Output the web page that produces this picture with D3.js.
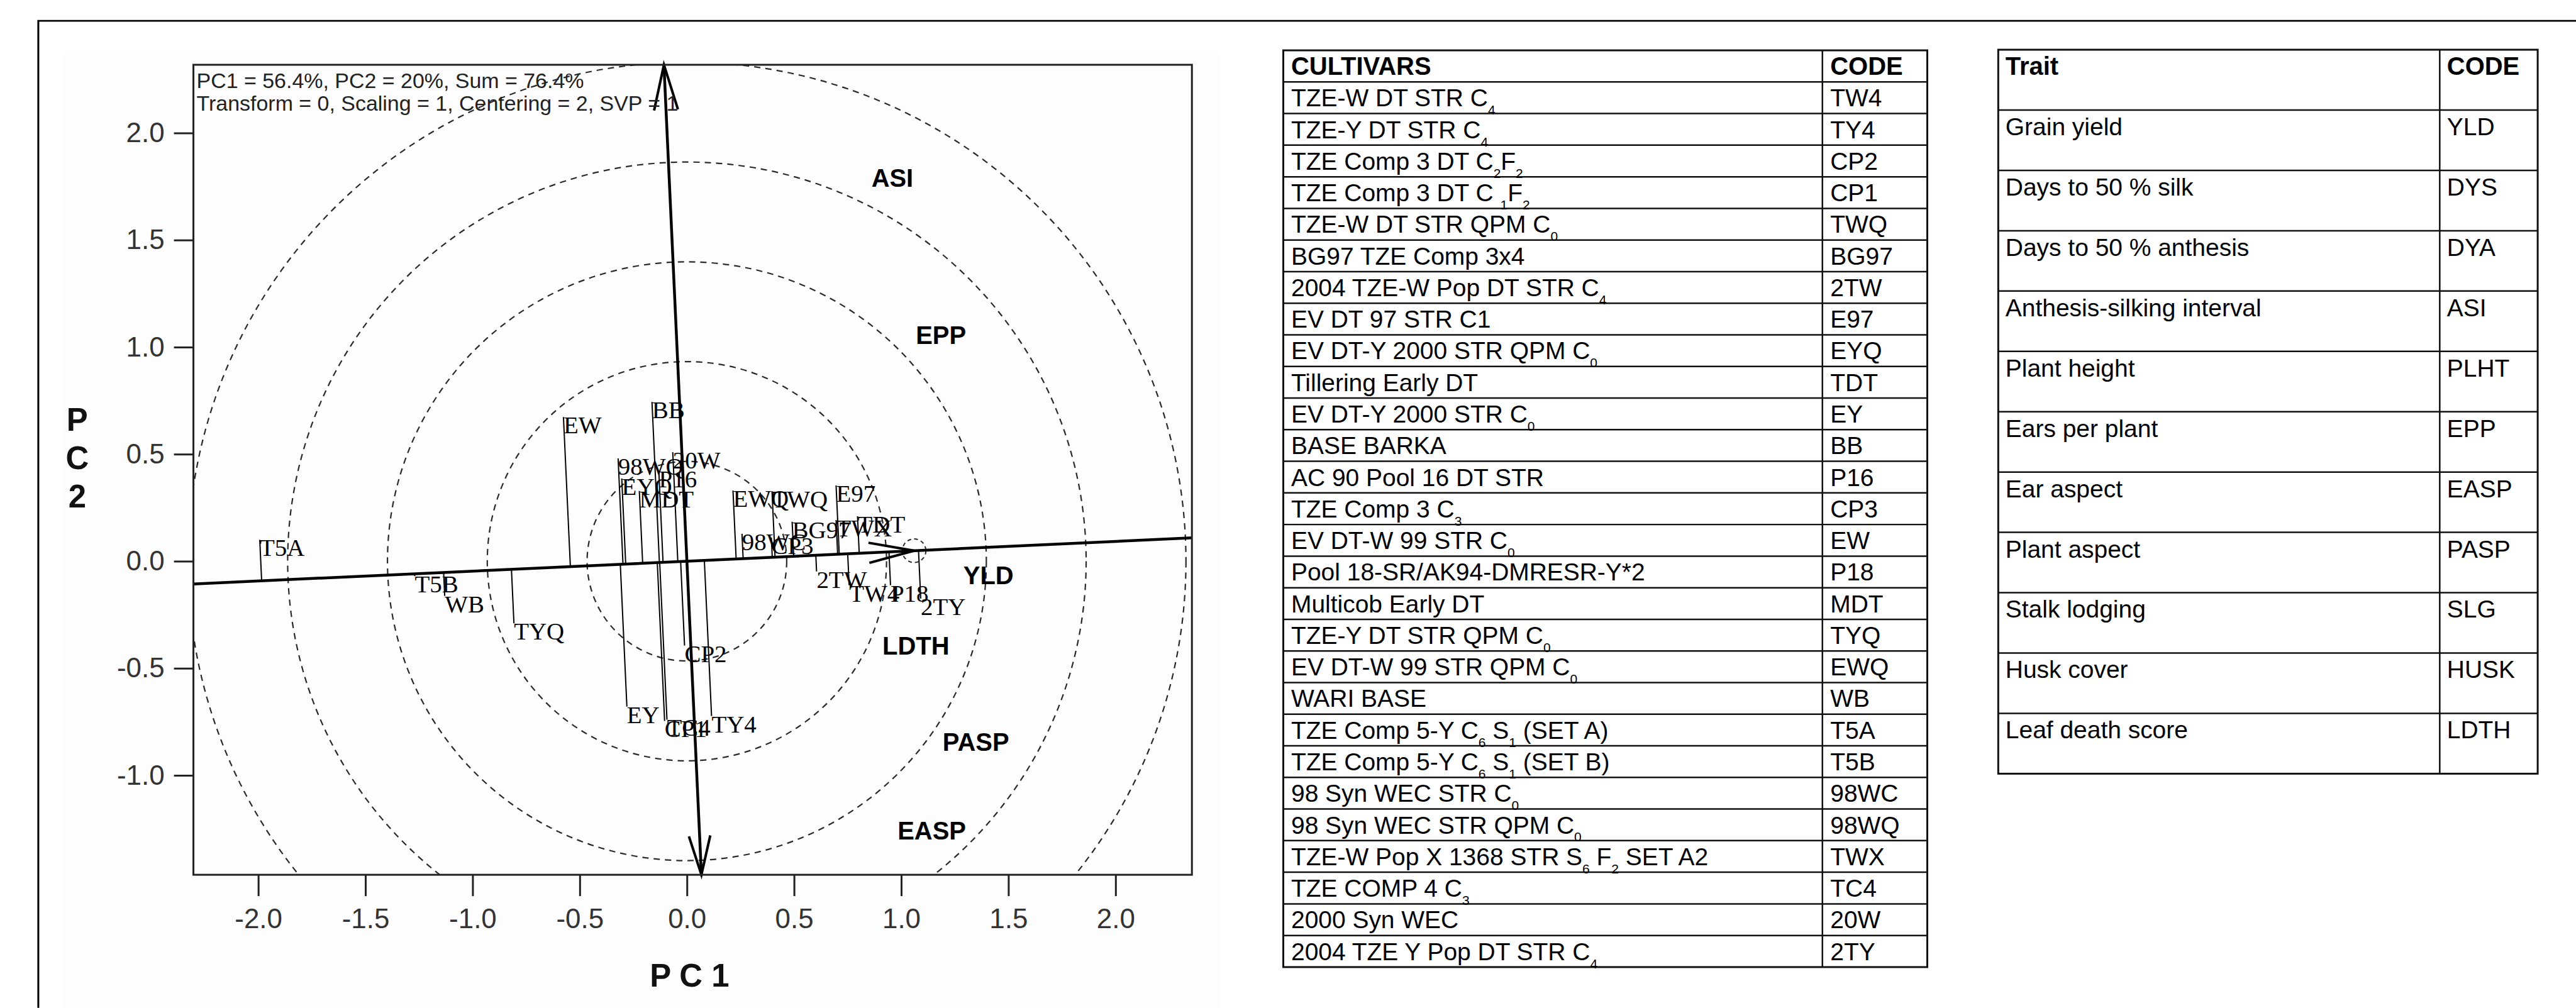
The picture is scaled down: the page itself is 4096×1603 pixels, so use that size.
<!DOCTYPE html>
<html>
<head>
<meta charset="utf-8">
<script src="https://cdn.jsdelivr.net/npm/d3@7"></script>
<style>
  html, body { margin: 0; padding: 0; background: #fff; overflow: hidden; }
  text { white-space: pre; }
</style>
</head>
<body>
<svg id="fig"></svg>
<script>
// ---------------- data ----------------
// cultivar codes (table order) and their GGE biplot scores
const genotypeCodes = ["TW4","TY4","CP2","CP1","TWQ","BG97","2TW","E97","EYQ","TDT","EY","BB","P16","CP3",
  "EW","P18","MDT","TYQ","EWQ","WB","T5A","T5B","98WC","98WQ","TWX","TC4","20W","2TY"];
const genotypePC1 = [0.757, 0.115, -0.011, -0.104, 0.397, 0.491, 0.605, 0.696, -0.304, 0.796, -0.280, -0.163, -0.131, 0.394,
  -0.576, 0.950, -0.222, -0.807, 0.215, -1.130, -1.993, -1.270, 0.257, -0.321, 0.696, -0.093, -0.066, 1.091];
const genotypePC2 = [-0.112, -0.723, -0.394, -0.746, 0.327, 0.184, -0.048, 0.354, 0.386, 0.210, -0.679, 0.744, 0.421, 0.110,
  0.673, -0.112, 0.328, -0.290, 0.330, -0.162, 0.100, -0.070, 0.128, 0.480, 0.192, -0.740, 0.509, -0.174];

// cultivar names; _{..} marks a subscript
const cultivarNames = [
  "TZE-W DT STR C_{4}", "TZE-Y DT STR C_{4}", "TZE Comp 3 DT C_{2}F_{2}", "TZE Comp 3 DT C _{1}F_{2}",
  "TZE-W DT STR QPM C_{0}", "BG97 TZE Comp 3x4", "2004 TZE-W Pop DT STR C_{4}", "EV DT 97 STR C1",
  "EV DT-Y 2000 STR QPM C_{0}", "Tillering Early DT", "EV DT-Y 2000 STR C_{0}", "BASE BARKA",
  "AC 90 Pool 16 DT STR", "TZE Comp 3 C_{3}", "EV DT-W 99 STR C_{0}", "Pool 18-SR/AK94-DMRESR-Y*2",
  "Multicob Early DT", "TZE-Y DT STR QPM C_{0}", "EV DT-W 99 STR QPM C_{0}", "WARI BASE",
  "TZE Comp 5-Y C_{6} S_{1} (SET A)", "TZE Comp 5-Y C_{6} S_{1} (SET B)", "98 Syn WEC STR C_{0}",
  "98 Syn WEC STR QPM C_{0}", "TZE-W Pop X 1368 STR S_{6} F_{2} SET A2", "TZE COMP 4 C_{3}",
  "2000 Syn WEC", "2004 TZE Y Pop DT STR C_{4}"];

// traits (testers)
const traitNames = ["Grain yield","Days to 50 % silk","Days to 50 % anthesis","Anthesis-silking interval",
  "Plant height","Ears per plant","Ear aspect","Plant aspect","Stalk lodging","Husk cover","Leaf death score"];
const traitCodes = ["YLD","DYS","DYA","ASI","PLHT","EPP","EASP","PASP","SLG","HUSK","LDTH"];

// trait labels shown inside the biplot
const plotTraitCodes = ["ASI","EPP","YLD","LDTH","PASP","EASP"];
const plotTraitPC1 = [0.861, 1.068, 1.290, 0.912, 1.193, 0.983];
const plotTraitPC2 = [1.750, 1.016, -0.107, -0.435, -0.887, -1.300];

// average-environment coordinate and biplot settings
const averageEnvironment = [1.060, 0.049];
const circleStep = 0.4657;
const circleCount = 5;
const headerLines = ["PC1 = 56.4%, PC2 = 20%, Sum = 76.4%",
  "Transform = 0, Scaling = 1, Centering = 2, SVP = 1"];
const xTickValues = [-2.0, -1.5, -1.0, -0.5, 0.0, 0.5, 1.0, 1.5, 2.0];
const yTickValues = [-1.0, -0.5, 0.0, 0.5, 1.0, 1.5, 2.0];

// ---------------- drawing ----------------
const W = 4102, H = 1605;
const SANS = "'Liberation Sans', Arial, sans-serif";
const SERIF = "'Liberation Serif', 'Times New Roman', serif";

const svg = d3.select("#fig")
  .attr("width", 4096).attr("height", 1603)
  .attr("viewBox", `0 0 ${W} ${H}`);

svg.append("rect").attr("width", W).attr("height", H).attr("fill", "#fff");

// figure frame (top and left rule)
svg.append("path").attr("d", `M61,${H} V33 H${W}`)
  .attr("fill", "none").attr("stroke", "#000").attr("stroke-width", 3);

// soft backdrop of the biplot panel
svg.append("rect").attr("x", 99).attr("y", 86).attr("width", 1845).attr("height", H - 86)
  .attr("fill", "#fdfdfd");

const plot = { left: 308, right: 1898, top: 103, bottom: 1393 };
const x = d3.scaleLinear().domain([-2.3025, 2.3563]).range([plot.left, plot.right]);
const y = d3.scaleLinear().domain([-1.4645, 2.3185]).range([plot.bottom, plot.top]);
const pxPerUnit = x(1) - x(0);

svg.append("defs").append("clipPath").attr("id", "plotClip")
  .append("rect").attr("x", plot.left).attr("y", plot.top)
  .attr("width", plot.right - plot.left).attr("height", plot.bottom - plot.top);

const g = svg.append("g").attr("clip-path", "url(#plotClip)");

// concentric circles about the biplot origin
g.selectAll("circle.ring").data(d3.range(1, circleCount + 1)).join("circle")
  .attr("class", "ring")
  .attr("cx", x(0)).attr("cy", y(0))
  .attr("r", k => k * circleStep * pxPerUnit)
  .attr("fill", "none").attr("stroke", "#2a2a2a").attr("stroke-width", 2.2)
  .attr("stroke-dasharray", "10,8");

// AEC axes: abscissa through the average environment, ordinate perpendicular
const theta = Math.atan2(averageEnvironment[1], averageEnvironment[0]);
const ux = Math.cos(theta), uy = Math.sin(theta);
const vx = -Math.sin(theta), vy = Math.cos(theta);

// small circle marking the average environment
g.append("circle")
  .attr("cx", x(averageEnvironment[0])).attr("cy", y(averageEnvironment[1]))
  .attr("r", 0.055 * pxPerUnit)
  .attr("fill", "none").attr("stroke", "#2a2a2a").attr("stroke-width", 2)
  .attr("stroke-dasharray", "6,5");

// projection lines from each genotype onto the abscissa
const genotypes = genotypeCodes.map((c, i) => ({ code: c, pc1: genotypePC1[i], pc2: genotypePC2[i] }));
g.selectAll("line.proj").data(genotypes).join("line")
  .attr("class", "proj")
  .attr("x1", d => { const t = d.pc1 * ux + d.pc2 * uy; return x(t * ux); })
  .attr("y1", d => { const t = d.pc1 * ux + d.pc2 * uy; return y(t * uy); })
  .attr("x2", d => x(d.pc1)).attr("y2", d => y(d.pc2))
  .attr("stroke", "#000").attr("stroke-width", 2);

// abscissa
g.append("line")
  .attr("x1", x(-10 * ux)).attr("y1", y(-10 * uy))
  .attr("x2", x(10 * ux)).attr("y2", y(10 * uy))
  .attr("stroke", "#000").attr("stroke-width", 4.5);

// ordinate
g.append("line")
  .attr("x1", x(-10 * vx)).attr("y1", y(-10 * vy))
  .attr("x2", x(10 * vx)).attr("y2", y(10 * vy))
  .attr("stroke", "#000").attr("stroke-width", 4.5);

// open arrowheads
function arrowHead(tipX, tipY, dirX, dirY, len, half) {
  const n = Math.hypot(dirX, dirY); const dx = dirX / n, dy = dirY / n;
  const bx = tipX - dx * len, by = tipY - dy * len;
  return `M${bx - dy * half},${by + dx * half} L${tipX},${tipY} L${bx + dy * half},${by - dx * half}`;
}
const arrowStyle = s => s.attr("fill", "none").attr("stroke", "#000").attr("stroke-width", 4)
  .attr("stroke-linejoin", "miter");

// arrow on the abscissa pointing to the higher mean
{
  const tx = x(averageEnvironment[0]), ty = y(averageEnvironment[1]);
  const dX = x(ux) - x(0), dY = y(uy) - y(0);
  svg.append("path").attr("d", arrowHead(tx, ty, dX, dY, 72, 16)).call(arrowStyle);
}
// arrows at both ends of the ordinate
{
  const tTop = y.domain()[1] / vy, tBot = y.domain()[0] / vy;
  const dX = x(vx) - x(0), dY = y(vy) - y(0);
  svg.append("path").attr("d", arrowHead(x(tTop * vx), y(tTop * vy), dX, dY, 72, 19)).call(arrowStyle);
  svg.append("path").attr("d", arrowHead(x(tBot * vx), y(tBot * vy), -dX, -dY, 62, 17)).call(arrowStyle);
}

// genotype labels (top-left corner at the genotype point)
g.selectAll("text.geno").data(genotypes).join("text")
  .attr("class", "geno")
  .attr("x", d => x(d.pc1)).attr("y", d => y(d.pc2) + 26)
  .attr("font-family", SERIF).attr("font-size", 39).attr("fill", "#000")
  .text(d => d.code);

// trait labels
g.selectAll("text.trait").data(plotTraitCodes).join("text")
  .attr("class", "trait")
  .attr("x", (d, i) => x(plotTraitPC1[i])).attr("y", (d, i) => y(plotTraitPC2[i]))
  .attr("font-family", SANS).attr("font-weight", "bold").attr("font-size", 40).attr("fill", "#000")
  .text(d => d);

// plot frame
svg.append("rect").attr("x", plot.left).attr("y", plot.top)
  .attr("width", plot.right - plot.left).attr("height", plot.bottom - plot.top)
  .attr("fill", "none").attr("stroke", "#222").attr("stroke-width", 3);

// axes
const fmt = v => d3.format(".1f")(v).replace("\u2212", "-");
const xAxis = svg.append("g").attr("transform", `translate(0,${plot.bottom})`)
  .call(d3.axisBottom(x).tickValues(xTickValues).tickFormat(fmt).tickSize(34).tickPadding(20));
const yAxis = svg.append("g").attr("transform", `translate(${plot.left},0)`)
  .call(d3.axisLeft(y).tickValues(yTickValues).tickFormat(fmt).tickSize(31).tickPadding(15));
[xAxis, yAxis].forEach(a => {
  a.select(".domain").remove();
  a.selectAll(".tick line").attr("stroke", "#222").attr("stroke-width", 3);
  a.selectAll(".tick text").attr("font-family", SANS).attr("font-size", 44).attr("fill", "#333");
});

// header statistics
svg.selectAll("text.hdr").data(headerLines).join("text")
  .attr("class", "hdr")
  .attr("x", 313).attr("y", (d, i) => 140 + i * 36)
  .attr("font-family", SANS).attr("font-size", 34).attr("fill", "#222")
  .text(d => d);

// axis titles
svg.append("text").attr("x", 1098).attr("y", 1571).attr("text-anchor", "middle")
  .attr("font-family", SANS).attr("font-weight", "bold").attr("font-size", 51).attr("fill", "#111")
  .text("P C 1");
const pc2 = svg.append("text").attr("text-anchor", "middle")
  .attr("font-family", SANS).attr("font-weight", "bold").attr("font-size", 51).attr("fill", "#111");
["P", "C", "2"].forEach((ch, i) => pc2.append("tspan").attr("x", 123).attr("y", 686 + i * 61).text(ch));

// ---------------- tables ----------------
function richText(sel, str, subSize, subDy) {
  const parts = str.split(/(_\{[^}]*\})/).filter(s => s.length);
  let inSub = false;
  parts.forEach(p => {
    const m = p.match(/^_\{(.*)\}$/);
    if (m) {
      sel.append("tspan").attr("font-size", subSize).attr("dy", subDy).text(m[1]);
      inSub = true;
    } else {
      const t = sel.append("tspan").text(p);
      if (inSub) t.attr("dy", -subDy);
      inSub = false;
    }
  });
}

function drawTable(opt) {
  const t = svg.append("g");
  const nRows = opt.rows.length + 1;
  const rowH = (opt.bottom - opt.top) / nRows;
  // grid
  for (let r = 1; r < nRows; r++) {
    t.append("line").attr("x1", opt.left).attr("x2", opt.right)
      .attr("y1", opt.top + r * rowH).attr("y2", opt.top + r * rowH)
      .attr("stroke", "#111").attr("stroke-width", 2.5);
  }
  t.append("line").attr("x1", opt.divider).attr("x2", opt.divider)
    .attr("y1", opt.top).attr("y2", opt.bottom)
    .attr("stroke", "#111").attr("stroke-width", 2.5);
  t.append("rect").attr("x", opt.left).attr("y", opt.top)
    .attr("width", opt.right - opt.left).attr("height", opt.bottom - opt.top)
    .attr("fill", "none").attr("stroke", "#111").attr("stroke-width", 3);
  // header
  [[opt.header[0], opt.left + opt.pad], [opt.header[1], opt.divider + opt.pad]].forEach(([txt, tx]) => {
    t.append("text").attr("x", tx).attr("y", opt.top + opt.baseline)
      .attr("font-family", SANS).attr("font-weight", "bold").attr("font-size", 40).attr("fill", "#000")
      .text(txt);
  });
  // body
  opt.rows.forEach((row, i) => {
    const by = opt.top + (i + 1) * rowH + opt.baseline;
    const nameText = t.append("text").attr("x", opt.left + opt.pad).attr("y", by)
      .attr("font-family", SANS).attr("font-size", 39).attr("fill", "#000");
    richText(nameText, row[0], 21, 13);
    t.append("text").attr("x", opt.divider + opt.pad).attr("y", by)
      .attr("font-family", SANS).attr("font-size", 39).attr("fill", "#000")
      .text(row[1]);
  });
}

drawTable({
  left: 2043.5, right: 3069, divider: 2902, top: 80, bottom: 1540,
  pad: 12.5, baseline: 39, header: ["CULTIVARS", "CODE"],
  rows: cultivarNames.map((n, i) => [n, genotypeCodes[i]])
});

drawTable({
  left: 3182, right: 4041, divider: 3885, top: 79, bottom: 1232,
  pad: 11.5, baseline: 40, header: ["Trait", "CODE"],
  rows: traitNames.map((n, i) => [n, traitCodes[i]])
});
</script>
</body>
</html>
